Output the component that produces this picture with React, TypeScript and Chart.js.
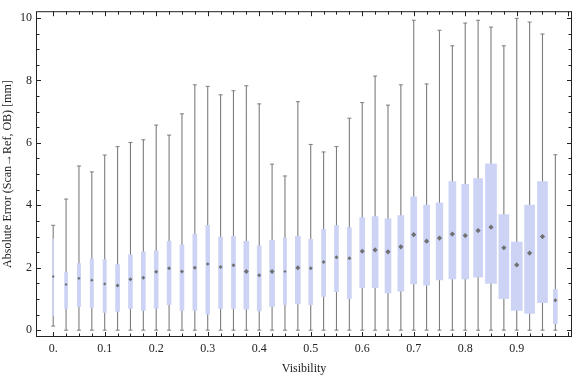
import React, { useEffect, useRef } from "react";
import { Chart, registerables } from "chart.js";

Chart.register(...registerables);

// ---- data ----
const visibility = [
  0, 0.025, 0.05, 0.075, 0.1, 0.125, 0.15, 0.175, 0.2, 0.225,
  0.25, 0.275, 0.3, 0.325, 0.35, 0.375, 0.4, 0.425, 0.45, 0.475,
  0.5, 0.525, 0.55, 0.575, 0.6, 0.625, 0.65, 0.675, 0.7, 0.725,
  0.75, 0.775, 0.8, 0.825, 0.85, 0.875, 0.9, 0.925, 0.95, 0.975,
];
const whiskerLow = [
  0.13, 0, 0, 0, 0, 0, 0, 0, 0, 0,
  0, 0, 0, 0, 0, 0, 0, 0, 0, 0,
  0, 0, 0, 0, 0, 0, 0, 0, 0, 0,
  0, 0, 0, 0, 0, 0, 0, 0, 0, 0,
];
const quartile1 = [
  0.47, 0.70, 0.75, 0.73, 0.57, 0.60, 0.70, 0.63, 0.70, 0.82,
  0.63, 0.63, 0.51, 0.70, 0.70, 0.67, 0.62, 0.76, 0.82, 0.84,
  0.82, 1.08, 1.23, 1.01, 1.36, 1.36, 1.19, 1.25, 1.48, 1.44,
  1.61, 1.64, 1.64, 1.70, 1.50, 1.01, 0.63, 0.54, 0.88, 0.21,
];
const median = [
  1.72, 1.46, 1.66, 1.60, 1.48, 1.43, 1.63, 1.68, 1.87, 1.98,
  1.88, 2.00, 2.12, 2.02, 2.08, 1.88, 1.76, 1.88, 1.88, 2.00,
  1.98, 2.18, 2.34, 2.30, 2.53, 2.57, 2.51, 2.67, 3.06, 2.85,
  2.95, 3.08, 3.03, 3.19, 3.30, 2.64, 2.09, 2.47, 3.00, 0.96,
];
const quartile3 = [
  2.93, 1.86, 2.13, 2.29, 2.26, 2.10, 2.41, 2.51, 2.54, 2.85,
  2.73, 3.08, 3.36, 2.98, 3.01, 2.85, 2.70, 2.88, 2.95, 3.01,
  2.91, 3.23, 3.35, 3.29, 3.61, 3.64, 3.57, 3.67, 4.27, 4.01,
  4.08, 4.76, 4.67, 4.86, 5.33, 3.70, 2.82, 4.01, 4.76, 1.31,
];
const whiskerHigh = [
  3.36, 4.20, 5.26, 5.07, 5.61, 5.88, 6.01, 6.10, 6.57, 6.25,
  6.93, 7.86, 7.81, 7.54, 7.67, 7.83, 7.25, 5.32, 4.94, 7.32,
  5.95, 5.71, 5.88, 6.79, 7.29, 8.14, 7.21, 7.86, 9.93, 7.89,
  9.61, 9.11, 9.84, 9.93, 9.71, 9.11, 9.99, 9.87, 9.49, 5.62,
];

// tick labels
const xTickValues = [0, 0.1, 0.2, 0.3, 0.4, 0.5, 0.6, 0.7, 0.8, 0.9];
const xTickLabels = ["0.", "0.1", "0.2", "0.3", "0.4", "0.5", "0.6", "0.7", "0.8", "0.9"];
const yTickValues = [0, 2, 4, 6, 8, 10];
const yTickLabels = ["0", "2", "4", "6", "8", "10"];
const xMinorTicks = [
  0, 0.025, 0.05, 0.075, 0.1, 0.125, 0.15, 0.175, 0.2, 0.225,
  0.25, 0.275, 0.3, 0.325, 0.35, 0.375, 0.4, 0.425, 0.45, 0.475,
  0.5, 0.525, 0.55, 0.575, 0.6, 0.625, 0.65, 0.675, 0.7, 0.725,
  0.75, 0.775, 0.8, 0.825, 0.85, 0.875, 0.9, 0.925, 0.95, 0.975, 1,
];
const yMinorTicks = [
  0, 0.5, 1, 1.5, 2, 2.5, 3, 3.5, 4, 4.5, 5, 5.5, 6, 6.5, 7, 7.5, 8, 8.5, 9, 9.5, 10,
];

// ---- styles ----
const boxWidthPx = [
  1.2, 3, 3.3, 3.3, 3.3, 4, 4, 4, 4, 4,
  4, 4, 3.7, 4, 4, 5, 4, 5, 3.2, 5,
  4, 4, 4, 4, 5, 6, 6, 6, 6, 6,
  6.7, 7, 7, 9, 11, 10, 11, 10, 10, 4,
];
const FONT = "'Liberation Serif', 'DejaVu Serif', 'Times New Roman', serif";
const BOX_COLOR = "#ccd3f5";
const WHISKER_COLOR = "#7c7c7c";
const MEDIAN_COLOR = "#707070";
const FRAME_COLOR = "#222";
const TEXT_COLOR = "#222";

const framePlugin = {
  id: "frameTicks",
  afterDatasetsDraw(chart: any) {
    const { ctx, chartArea, scales } = chart;
    const { left, right, top, bottom } = chartArea;
    const xs = scales.x;
    const ys = scales.y;
    ctx.save();
    ctx.strokeStyle = FRAME_COLOR;
    ctx.lineWidth = 1;
    ctx.strokeRect(left + 0.5, top + 0.5, right - left - 1, bottom - top - 1);
    ctx.beginPath();
    xMinorTicks.forEach((v) => {
      const px = Math.round(xs.getPixelForValue(v)) + 0.5;
      const major = Math.abs(v * 10 - Math.round(v * 10)) < 1e-6;
      const len = major ? 5 : 3.5;
      ctx.moveTo(px, bottom);
      ctx.lineTo(px, bottom - len);
      ctx.moveTo(px, top);
      ctx.lineTo(px, top + len);
    });
    yMinorTicks.forEach((v) => {
      const py = Math.round(ys.getPixelForValue(v)) + 0.5;
      const major = Math.abs(v / 2 - Math.round(v / 2)) < 1e-6;
      const len = major ? 5 : 3.5;
      ctx.moveTo(left, py);
      ctx.lineTo(left + len, py);
      ctx.moveTo(right, py);
      ctx.lineTo(right - len, py);
    });
    ctx.stroke();
    ctx.restore();
  },
};

export default function App() {
  const canvasRef = useRef<HTMLCanvasElement | null>(null);

  useEffect(() => {
    const canvas = canvasRef.current;
    if (!canvas) return;

    const datasets: any[] = [];

    datasets.push({
      type: "line",
      data: visibility.flatMap((v, i) => [
        { x: v, y: whiskerLow[i] },
        { x: v, y: whiskerHigh[i] },
        { x: v, y: null },
      ]),
      borderColor: WHISKER_COLOR,
      borderWidth: 1.1,
      pointRadius: 0,
      spanGaps: false,
      tension: 0,
      order: 4,
    });

    datasets.push({
      type: "scatter",
      data: visibility.flatMap((v, i) => [
        { x: v, y: whiskerLow[i] },
        { x: v, y: whiskerHigh[i] },
      ]),
      pointStyle: "line",
      pointRadius: 2,
      pointHoverRadius: 2,
      borderColor: WHISKER_COLOR,
      borderWidth: 1,
      order: 3,
    });

    visibility.forEach((v, i) => {
      datasets.push({
        type: "bar",
        data: [{ x: v, y: [quartile1[i], quartile3[i]] }],
        backgroundColor: BOX_COLOR,
        borderWidth: 0,
        grouped: false,
        barPercentage: 1,
        categoryPercentage: 1,
        maxBarThickness: boxWidthPx[i],
        order: 2,
      });
    });

    datasets.push({
      type: "scatter",
      data: visibility.map((v, i) => ({ x: v, y: median[i] })),
      pointStyle: "rectRot",
      pointRadius: (c: any) => Math.min(2.6, Math.max(1.4, boxWidthPx[c.dataIndex] / 2)),
      backgroundColor: MEDIAN_COLOR,
      borderWidth: 0,
      order: 1,
    });

    const chart = new Chart(canvas, {
      type: "bar",
      data: { datasets },
      plugins: [framePlugin],
      options: {
        animation: false,
        responsive: false,
        devicePixelRatio: 1,
        events: [],
        layout: { padding: { top: 4, right: 1, left: 0, bottom: 0 } },
        plugins: {
          legend: { display: false },
          tooltip: { enabled: false },
        },
        scales: {
          x: {
            type: "linear",
            offset: false,
            min: -0.0334,
            max: 1.0073,
            grid: { display: false, drawTicks: false },
            border: { display: false },
            afterBuildTicks: (s: any) => {
              s.ticks = xTickValues.map((v) => ({ value: v }));
            },
            afterFit: (s: any) => {
              s.height = 40;
            },
            ticks: {
              padding: 5,
              maxRotation: 0,
              autoSkip: false,
              color: TEXT_COLOR,
              font: { family: FONT, size: 12 },
              callback: (val: any) => {
                const idx = xTickValues.findIndex((t) => Math.abs(t - val) < 1e-9);
                return idx >= 0 ? xTickLabels[idx] : "";
              },
            },
            title: {
              display: true,
              text: "Visibility",
              color: TEXT_COLOR,
              font: { family: FONT, size: 12 },
              padding: { top: 0, bottom: 1 },
            },
          },
          y: {
            type: "linear",
            min: -0.219,
            max: 10.219,
            grid: { display: false, drawTicks: false },
            border: { display: false },
            afterBuildTicks: (s: any) => {
              s.ticks = yTickValues.map((v) => ({ value: v }));
            },
            afterFit: (s: any) => {
              s.width = 36;
            },
            ticks: {
              padding: 4,
              autoSkip: false,
              color: TEXT_COLOR,
              font: { family: FONT, size: 12 },
              callback: (val: any) => {
                const idx = yTickValues.findIndex((t) => Math.abs(t - val) < 1e-9);
                return idx >= 0 ? yTickLabels[idx] : "";
              },
            },
            title: {
              display: true,
              text: "Absolute Error (Scan\u2192Ref, OB) [mm]",
              color: TEXT_COLOR,
              font: { family: FONT, size: 12 },
              padding: { top: 1, bottom: 0 },
            },
          },
        },
      } as any,
    });

    return () => {
      chart.destroy();
    };
  }, []);

  return (
    <div
      style={{
        position: "absolute",
        left: 0,
        top: 0,
        width: 576,
        height: 377,
        background: "#fff",
      }}
    >
      <canvas ref={canvasRef} width={576} height={377} style={{ display: "block" }} />
    </div>
  );
}
